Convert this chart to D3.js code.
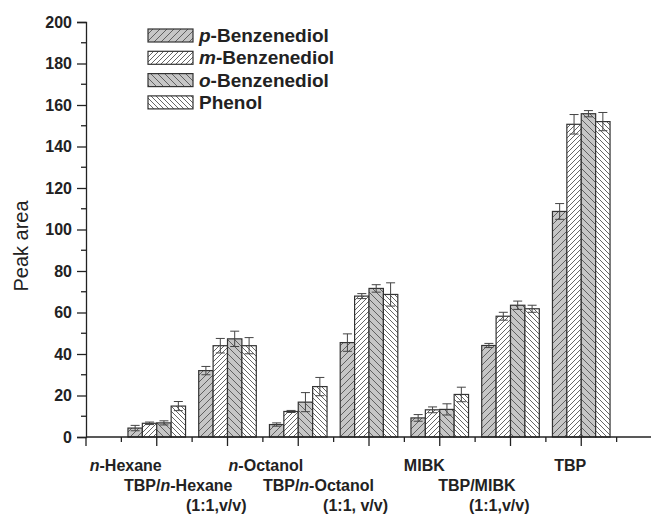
<!DOCTYPE html>
<html>
<head>
<meta charset="utf-8">
<script src="https://cdn.jsdelivr.net/npm/d3@7"></script>
<style>
  body { margin: 0; background: #fff; }
  text { font-family: "Liberation Sans", Arial, sans-serif; }
</style>
</head>
<body>
<div id="chart"></div>
<script>
// categories (label lines, italic parts marked with *)
const categories = ["n-Hexane", "TBP/n-Hexane", "n-Octanol", "TBP/n-Octanol", "MIBK", "TBP/MIBK", "TBP"];
const labelLines = [
    [["*n", "-Hexane"]],
    [["TBP/", "*n", "-Hexane"], ["(1:1,v/v)"]],
    [["*n", "-Octanol"]],
    [["TBP/", "*n", "-Octanol"], ["(1:1, v/v)"]],
    [["MIBK"]],
    [["TBP/MIBK"], ["(1:1,v/v)"]],
    [["TBP"]]
];
const seriesNames = ["p-Benzenediol", "m-Benzenediol", "o-Benzenediol", "Phenol"];
const pBenzenediol = [4.3, 32.0, 6.0, 45.5, 9.2, 44.1, 108.7];
const mBenzenediol = [6.6, 44.0, 12.3, 67.9, 13.1, 58.2, 150.7];
const oBenzenediol = [6.8, 47.3, 16.8, 71.6, 13.3, 63.5, 155.8];
const phenol = [14.9, 44.0, 24.3, 68.7, 20.5, 61.8, 152.0];
const pErr = [1.3, 2.0, 0.8, 4.2, 1.6, 1.0, 3.8];
const mErr = [0.6, 3.5, 0.5, 1.2, 1.4, 1.9, 4.7];
const oErr = [1.0, 3.7, 4.6, 1.8, 2.7, 2.0, 1.5];
const phErr = [2.2, 3.9, 4.4, 5.6, 3.5, 1.7, 4.4];
const yTicks = [0, 20, 40, 60, 80, 100, 120, 140, 160, 180, 200];

const values = [pBenzenediol, mBenzenediol, oBenzenediol, phenol];
const errors = [pErr, mErr, oErr, phErr];

const W = 651, H = 523;
const svg = d3.select("#chart").append("svg").attr("width", W).attr("height", H);

// hatch patterns
const defs = svg.append("defs");
const patterns = [
    { id: "pat0", bg: "#c6c6c6", dir: 1, gap: 7 },
    { id: "pat1", bg: "#ffffff", dir: 1, gap: 5 },
    { id: "pat2", bg: "#c6c6c6", dir: -1, gap: 7 },
    { id: "pat3", bg: "#ffffff", dir: -1, gap: 5 }
];
patterns.forEach(p => {
    const g = p.gap;
    const pat = defs.append("pattern")
        .attr("id", p.id)
        .attr("patternUnits", "userSpaceOnUse")
        .attr("width", g).attr("height", g);
    pat.append("rect").attr("width", g).attr("height", g).attr("fill", p.bg);
    const d = p.dir > 0
        ? `M0,${g} L${g},0 M${-g / 2},${g / 2} L${g / 2},${-g / 2} M${g / 2},${g * 1.5} L${g * 1.5},${g / 2}`
        : `M0,0 L${g},${g} M${-g / 2},${g / 2} L${g / 2},${g * 1.5} M${g / 2},${-g / 2} L${g * 1.5},${g / 2}`;
    pat.append("path").attr("d", d).attr("stroke", "#555").attr("stroke-width", 0.9);
});

// scales
const x = d3.scaleLinear().domain([0, 8]).range([86, 652]);
const y = d3.scaleLinear().domain([0, 200]).range([437, 22]);
const bw = (x(1) - x(0)) * 0.2035;
const x1 = d3.scaleBand().domain(d3.range(4)).range([-2 * bw, 2 * bw]);

// bars
values.forEach((vals, si) => {
    svg.append("g").selectAll("rect")
        .data(vals)
        .join("rect")
        .attr("x", (d, i) => x(i + 1) + x1(si))
        .attr("y", d => y(d))
        .attr("width", x1.bandwidth())
        .attr("height", d => y(0) - y(d))
        .attr("fill", `url(#pat${si})`)
        .attr("stroke", "#333")
        .attr("stroke-width", 1.2);
});

// error bars
values.forEach((vals, si) => {
    const g = svg.append("g").attr("stroke", "#444").attr("stroke-width", 1);
    vals.forEach((v, i) => {
        const cx = x(i + 1) + x1(si) + x1.bandwidth() / 2;
        const e = errors[si][i];
        g.append("line").attr("x1", cx).attr("x2", cx).attr("y1", y(v - e)).attr("y2", y(v + e));
        g.append("line").attr("x1", cx - 4.5).attr("x2", cx + 4.5).attr("y1", y(v + e)).attr("y2", y(v + e));
        g.append("line").attr("x1", cx - 4.5).attr("x2", cx + 4.5).attr("y1", y(v - e)).attr("y2", y(v - e));
    });
});

// y axis
const yAxis = svg.append("g")
    .attr("transform", `translate(${x(0)},0)`)
    .call(d3.axisLeft(y).tickValues(yTicks).tickSize(9).tickPadding(5));
yAxis.select(".domain").attr("stroke", "#222").attr("stroke-width", 1.3);
yAxis.selectAll(".tick line").attr("stroke", "#222").attr("stroke-width", 1.3);
yAxis.selectAll(".tick text")
    .attr("font-family", "Liberation Sans, Arial, sans-serif")
    .attr("font-size", 16).attr("font-weight", "bold").attr("fill", "#222");
svg.append("g").selectAll("line")
    .data(d3.range(10, 200, 20))
    .join("line")
    .attr("x1", x(0) - 5).attr("x2", x(0))
    .attr("y1", d => y(d)).attr("y2", d => y(d))
    .attr("stroke", "#222").attr("stroke-width", 1.3);

// x axis
svg.append("line")
    .attr("x1", x(0)).attr("x2", x(8))
    .attr("y1", y(0)).attr("y2", y(0))
    .attr("stroke", "#222").attr("stroke-width", 1.3);
svg.append("g").selectAll("line")
    .data(d3.range(0, 8))
    .join("line")
    .attr("x1", d => x(d)).attr("x2", d => x(d))
    .attr("y1", y(0)).attr("y2", y(0) + 9)
    .attr("stroke", "#222").attr("stroke-width", 1.3);
svg.append("g").selectAll("line")
    .data(d3.range(0.5, 8, 1))
    .join("line")
    .attr("x1", d => x(d)).attr("x2", d => x(d))
    .attr("y1", y(0)).attr("y2", y(0) + 5)
    .attr("stroke", "#222").attr("stroke-width", 1.3);

// x labels: single-line labels on the first row, two-line ones staggered below
labelLines.forEach((lines, i) => {
    lines.forEach((parts, li) => {
        const row = lines.length === 1 ? 0 : li + 1;
        const t = svg.append("text")
            .attr("x", x(i + 1) + (li === 0 ? 5 : 19))
            .attr("y", y(0) + 34 + row * 20)
            .attr("text-anchor", "end")
            .attr("font-size", 16).attr("font-weight", "bold").attr("fill", "#222");
        parts.forEach(p => {
            const ts = t.append("tspan").text(p.replace("*", ""));
            if (p.startsWith("*")) ts.attr("font-style", "italic");
        });
    });
});

// y title
svg.append("text")
    .attr("transform", `translate(28,246) rotate(-90)`)
    .attr("text-anchor", "middle")
    .attr("font-size", 20).attr("fill", "#222")
    .text("Peak area");

// legend
const legend = svg.append("g");
seriesNames.forEach((name, i) => {
    const ly = 29 + i * 22.3;
    legend.append("rect")
        .attr("x", 148).attr("y", ly)
        .attr("width", 45).attr("height", 13)
        .attr("fill", `url(#pat${i})`)
        .attr("stroke", "#333").attr("stroke-width", 1.2);
    const t = legend.append("text")
        .attr("x", 199).attr("y", ly + 13)
        .attr("font-size", 19).attr("font-weight", "bold").attr("fill", "#222");
    if (i < 3) {
        t.append("tspan").attr("font-style", "italic").text(name.slice(0, 1));
        t.append("tspan").text(name.slice(1));
    } else {
        t.text(name);
    }
});
</script>
</body>
</html>
